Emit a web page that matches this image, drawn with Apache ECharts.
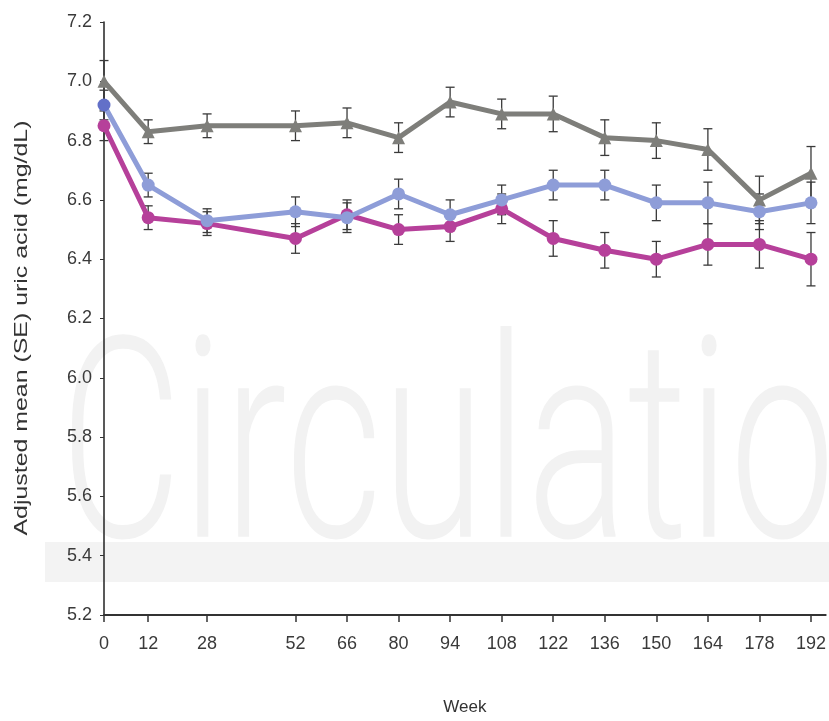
<!DOCTYPE html>
<html><head><meta charset="utf-8">
<script src="https://cdn.jsdelivr.net/npm/echarts@6/dist/echarts.min.js"></script>
<style>html,body{margin:0;padding:0;background:#fff}#c{width:829px;height:721px}</style>
</head><body><div id="c"></div>
<script>
const weeks = [0,12,28,52,66,80,94,108,122,136,150,164,178,192];
const grayMean = [7.00,6.83,6.85,6.85,6.86,6.81,6.93,6.89,6.89,6.81,6.80,6.77,6.60,6.69];
const graySE   = [0.07,0.04,0.04,0.05,0.05,0.05,0.05,0.05,0.06,0.06,0.06,0.07,0.08,0.09];
const blueMean = [6.92,6.65,6.53,6.56,6.54,6.62,6.55,6.60,6.65,6.65,6.59,6.59,6.56,6.59];
const blueSE   = [0.05,0.04,0.04,0.05,0.05,0.05,0.05,0.05,0.05,0.05,0.06,0.07,0.06,0.07];
const magMean  = [6.85,6.54,6.52,6.47,6.55,6.50,6.51,6.57,6.47,6.43,6.40,6.45,6.45,6.40];
const magSE    = [0.05,0.04,0.04,0.05,0.05,0.05,0.05,0.05,0.06,0.06,0.06,0.07,0.08,0.09];
const yTitle = 'Adjusted mean (SE) uric acid (mg/dL)';
const xTitle = 'Week';
const watermark = 'Circulatio';

const C_GRAY = '#7e7e7a', C_BLUE = '#8e9dd8', C_MAG = '#b6409a';
const FONT = "'Liberation Sans',Arial,sans-serif";

function pts(means){ return weeks.map((w,i)=>[w,means[i]]); }
function errs(means,se){ return weeks.map((w,i)=>[w,+(means[i]-se[i]).toFixed(3),+(means[i]+se[i]).toFixed(3)]); }

function errSeries(data,z){
  return {
    type:'custom', data:data, z:z, silent:true,
    renderItem:function(params,api){
      const x=api.value(0), lo=api.value(1), hi=api.value(2);
      const p1=api.coord([x,lo]), p2=api.coord([x,hi]);
      const w=4.5;
      const st={stroke:'#3a3a3a',lineWidth:1.3};
      return {type:'group',children:[
        {type:'line',shape:{x1:p1[0],y1:p1[1],x2:p2[0],y2:p2[1]},style:st},
        {type:'line',shape:{x1:p1[0]-w,y1:p1[1],x2:p1[0]+w,y2:p1[1]},style:st},
        {type:'line',shape:{x1:p2[0]-w,y1:p2[1],x2:p2[0]+w,y2:p2[1]},style:st}
      ]};
    },
    encode:{x:0,y:[1,2]}
  };
}

// measure helpers for stretched text
const mctx = document.createElement('canvas').getContext('2d');
function tw(font,text){ mctx.font=font; return mctx.measureText(text).width; }

const wmSize = 281;
const wmFont = "300 " + wmSize + "px Roboto,'Liberation Sans',Arial,sans-serif";
const wmScale = 775 / tw(wmFont, watermark);

const ySize = 19;
const yFont = ySize + "px 'Liberation Sans',Arial,sans-serif";
const yScale = 415 / tw(yFont, yTitle);

const blueData = pts(blueMean);
blueData[0] = {value:blueData[0], itemStyle:{color:'#6270c8'}};

const chart = echarts.init(document.getElementById('c'),null,{renderer:'canvas'});
chart.setOption({
  animation:false,
  backgroundColor:'#fff',
  graphic:[
    {type:'text',z:-10,silent:true,x:60,y:607,scaleX:wmScale,scaleY:1,
      style:{text:watermark,font:wmFont,fill:'#f2f2f2',verticalAlign:'bottom',align:'left'}},
    {type:'rect',z:-9,silent:true,shape:{x:45,y:542,width:784,height:40},style:{fill:'#f3f3f3'}},
    {type:'text',z:5,silent:true,x:22,y:328,rotation:Math.PI/2,scaleX:yScale,scaleY:1,
      style:{text:yTitle,font:yFont,fill:'#333',align:'center',verticalAlign:'middle'}}
  ],
  grid:{left:104,right:0,top:22,bottom:99,containLabel:false},
  xAxis:{
    type:'value',min:0,max:196,
    name:xTitle,nameLocation:'middle',nameGap:84,
    nameTextStyle:{fontFamily:FONT,fontSize:17,color:'#333'},
    axisLine:{lineStyle:{color:'#333',width:2}},
    axisTick:{customValues:weeks,length:7,lineStyle:{color:'#333',width:1.5}},
    axisLabel:{customValues:weeks,margin:20,fontFamily:FONT,fontSize:18,color:'#3a3a3a',formatter:v=>String(v)},
    splitLine:{show:false}
  },
  yAxis:{
    type:'value',min:5.2,max:7.2,interval:0.2,
    axisLine:{show:true,lineStyle:{color:'#222',width:1.5}},
    axisTick:{show:true,length:4,lineStyle:{color:'#333'}},
    axisLabel:{margin:12,fontFamily:FONT,fontSize:18,color:'#3a3a3a',formatter:v=>v.toFixed(1)},
    splitLine:{show:false}
  },
  series:[
    errSeries(errs(grayMean,graySE),2),
    errSeries(errs(blueMean,blueSE),2),
    errSeries(errs(magMean,magSE),2),
    {type:'line',name:'gray',data:pts(grayMean),z:3,symbol:'triangle',symbolSize:13,
      lineStyle:{color:C_GRAY,width:5},itemStyle:{color:C_GRAY}},
    {type:'line',name:'magenta',data:pts(magMean),z:3,symbol:'circle',symbolSize:13,
      lineStyle:{color:C_MAG,width:5},itemStyle:{color:C_MAG}},
    {type:'line',name:'blue',data:blueData,z:4,symbol:'circle',symbolSize:13,
      lineStyle:{color:C_BLUE,width:5},itemStyle:{color:C_BLUE}}
  ]
});
</script></body></html>
